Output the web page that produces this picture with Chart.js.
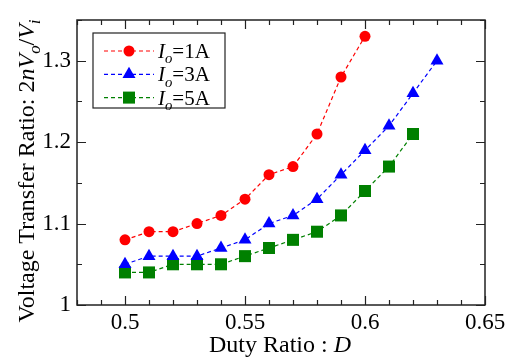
<!DOCTYPE html>
<html>
<head>
<meta charset="utf-8">
<script src="https://cdn.jsdelivr.net/npm/chart.js@4.4.1/dist/chart.umd.min.js"></script>
<style>
  html, body { margin: 0; padding: 0; background: #fff; }
  #wrap { width: 515px; height: 364px; }
</style>
</head>
<body>
<div id="wrap"><canvas id="chart" width="515" height="364"></canvas></div>
<script>
// duty ratio D and measured 2nVo/Vi for three output currents
const dutyRatio = [0.50, 0.51, 0.52, 0.53, 0.54, 0.55, 0.56, 0.57, 0.58, 0.59, 0.60, 0.61, 0.62, 0.63];
const ratio1A = [1.08, 1.09, 1.09, 1.10, 1.11, 1.13, 1.16, 1.17, 1.21, 1.28, 1.33];
const ratio3A = [1.05, 1.06, 1.06, 1.06, 1.07, 1.08, 1.10, 1.11, 1.13, 1.16, 1.19, 1.22, 1.26, 1.30];
const ratio5A = [1.04, 1.04, 1.05, 1.05, 1.05, 1.06, 1.07, 1.08, 1.09, 1.11, 1.14, 1.17, 1.21];
const seriesLabels = ['1A', '3A', '5A'];
const xTicks = [0.5, 0.55, 0.6, 0.65];
const yTicks = [1, 1.1, 1.2, 1.3];

const SERIF = '"Liberation Serif", "Times New Roman", serif';

const toPoints = (vals) => vals.map((v, i) => ({ x: dutyRatio[i], y: v }));

const styles = [
  { color: '#ff0000', pointStyle: 'circle', radius: 5.5 },
  { color: '#0000ff', pointStyle: 'triangle', radius: 7.5 },
  { color: '#008000', pointStyle: 'rect', radius: 8.5 }
];

const datasets = [ratio1A, ratio3A, ratio5A].map((vals, i) => ({
  label: 'Io=' + seriesLabels[i],
  data: toPoints(vals),
  borderColor: styles[i].color,
  backgroundColor: styles[i].color,
  borderWidth: 1.2,
  borderDash: [4, 3],
  pointStyle: styles[i].pointStyle,
  pointRadius: styles[i].radius,
  pointBorderWidth: 0,
  tension: 0
}));

// draw text made of runs: {t, it (italic), sub (subscript)}
function drawRuns(ctx, runs, x, y, size, align) {
  const font = (r) => (r.it ? 'italic ' : '') + (r.sub ? size * 0.7 : size) + 'px ' + SERIF;
  let total = 0;
  runs.forEach(r => { ctx.font = font(r); total += ctx.measureText(r.t).width; });
  let cx = align === 'center' ? x - total / 2 : x;
  ctx.textAlign = 'left';
  ctx.textBaseline = 'alphabetic';
  runs.forEach(r => {
    ctx.font = font(r);
    ctx.fillText(r.t, cx, r.sub ? y + size * 0.25 : y);
    cx += ctx.measureText(r.t).width;
  });
}

const framePlugin = {
  id: 'frame',
  afterDraw(chart) {
    const { ctx, chartArea: a, scales: { x, y } } = chart;
    ctx.save();
    ctx.strokeStyle = '#222';
    ctx.lineWidth = 1.5;
    ctx.strokeRect(a.left, a.top, a.right - a.left, a.bottom - a.top);

    // inward ticks on all four sides
    ctx.lineWidth = 1.2;
    ctx.beginPath();
    for (let v = 0.48; v <= 0.6501; v += 0.01) {
      const px = Math.round(x.getPixelForValue(v)) + 0.5;
      const major = Math.abs(v / 0.05 - Math.round(v / 0.05)) < 1e-6;
      const len = major ? 9 : 5;
      ctx.moveTo(px, a.bottom); ctx.lineTo(px, a.bottom - len);
      ctx.moveTo(px, a.top); ctx.lineTo(px, a.top + len);
    }
    for (let v = 1.0; v <= 1.3501; v += 0.05) {
      const py = Math.round(y.getPixelForValue(v)) + 0.5;
      const major = Math.abs(v / 0.1 - Math.round(v / 0.1)) < 1e-6;
      const len = major ? 9 : 5;
      ctx.moveTo(a.left, py); ctx.lineTo(a.left + len, py);
      ctx.moveTo(a.right, py); ctx.lineTo(a.right - len, py);
    }
    ctx.stroke();

    // axis titles
    ctx.fillStyle = '#000';
    drawRuns(ctx, [{ t: 'Duty Ratio : ' }, { t: 'D', it: true }], 280, 352, 24, 'center');
    ctx.save();
    ctx.translate(34, 171);
    ctx.rotate(-Math.PI / 2);
    drawRuns(ctx, [
      { t: 'Voltage Transfer Ratio: 2' }, { t: 'nV', it: true }, { t: 'o', it: true, sub: true },
      { t: '/' }, { t: 'V', it: true }, { t: 'i', it: true, sub: true }
    ], 0, 0, 24, 'center');
    ctx.restore();

    // legend
    const lx = 93, ly = 33, lw = 132, lh = 75;
    ctx.fillStyle = '#fff';
    ctx.fillRect(lx, ly, lw, lh);
    ctx.strokeStyle = '#222';
    ctx.lineWidth = 1.2;
    ctx.strokeRect(lx, ly, lw, lh);
    chart.data.datasets.forEach((ds, i) => {
      const rowY = 51 + i * 23.3;
      ctx.strokeStyle = ds.borderColor;
      ctx.lineWidth = ds.borderWidth;
      ctx.setLineDash(ds.borderDash);
      ctx.beginPath();
      ctx.moveTo(104, rowY); ctx.lineTo(154, rowY);
      ctx.stroke();
      ctx.setLineDash([]);
      ctx.fillStyle = ds.backgroundColor;
      Chart.helpers.drawPoint(ctx, { pointStyle: ds.pointStyle, radius: ds.pointRadius, borderWidth: 0, rotation: 0 }, 129, rowY);
      ctx.fillStyle = '#000';
      drawRuns(ctx, [{ t: 'I', it: true }, { t: 'o', it: true, sub: true }, { t: '=' + seriesLabels[i] }], 158, rowY + 7, 21, 'left');
    });
    ctx.restore();
  }
};

new Chart(document.getElementById('chart'), {
  type: 'line',
  data: { datasets },
  options: {
    responsive: false,
    animation: false,
    events: [],
    layout: { padding: { top: 20, right: 30, left: 0, bottom: 0 } },
    plugins: { legend: { display: false }, tooltip: { enabled: false } },
    scales: {
      x: {
        type: 'linear',
        min: 0.48,
        max: 0.65,
        afterBuildTicks: (s) => { s.ticks = xTicks.map(v => ({ value: v })); },
        afterFit: (s) => { s.height = 59; },
        grid: { display: false, drawTicks: false },
        border: { display: false },
        ticks: {
          padding: 4,
          color: '#000',
          font: { family: SERIF, size: 23 },
          callback: (v) => String(Number(v.toFixed(2)))
        }
      },
      y: {
        min: 1,
        max: 1.35,
        afterBuildTicks: (s) => { s.ticks = yTicks.map(v => ({ value: v })); },
        afterFit: (s) => { s.width = 77; },
        grid: { display: false, drawTicks: false },
        border: { display: false },
        ticks: {
          padding: 6,
          color: '#000',
          font: { family: SERIF, size: 23 },
          callback: (v) => String(Number(v.toFixed(2)))
        }
      }
    }
  },
  plugins: [framePlugin]
});
</script>
</body>
</html>
